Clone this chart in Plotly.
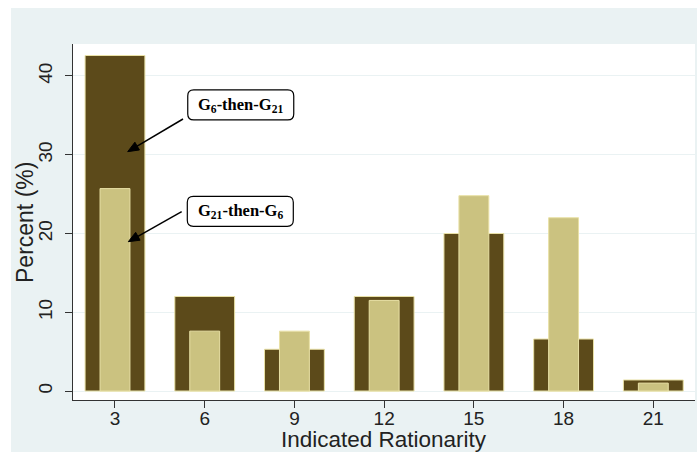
import math
import plotly.graph_objects as go

categories = [3, 6, 9, 12, 15, 18, 21]
g6_then_g21 = [42.6, 12.0, 5.3, 12.0, 20.0, 6.6, 1.4]
g21_then_g6 = [25.7, 7.6, 7.6, 11.5, 24.8, 22.0, 1.0]
y_ticks = [0, 10, 20, 30, 40]

DARK = "#5C4A1A"
LIGHT = "#CBC280"
EDGE = "#E9E1A6"
BG = "#EAF2F3"

X_RANGE = [1.596, 22.394]
Y_RANGE = [-1.143, 44.06]
ML, MR, MT, MB = 73, 5, 44, 52
W, H = 700, 452
PW, PH = W - ML - MR, H - MT - MB
XPU = PW / (X_RANGE[1] - X_RANGE[0])
YPU = PH / (Y_RANGE[1] - Y_RANGE[0])

fig = go.Figure()
fig.add_trace(go.Bar(x=categories, y=g6_then_g21, width=2, name="G6-then-G21",
                     marker=dict(color=DARK, line=dict(color=EDGE, width=1))))
fig.add_trace(go.Bar(x=categories, y=g21_then_g6, width=1, name="G21-then-G6",
                     marker=dict(color=LIGHT, line=dict(color=EDGE, width=1))))


def rounded_box(cx, cy, wpx, hpx, rpx=6):
    hw, hh = wpx / 2 / XPU, hpx / 2 / YPU
    rx, ry = rpx / XPU, rpx / YPU
    x0, x1, y0, y1 = cx - hw, cx + hw, cy - hh, cy + hh
    return (f"M {x0+rx} {y0} L {x1-rx} {y0} Q {x1} {y0} {x1} {y0+ry} "
            f"L {x1} {y1-ry} Q {x1} {y1} {x1-rx} {y1} L {x0+rx} {y1} "
            f"Q {x0} {y1} {x0} {y1-ry} L {x0} {y0+ry} Q {x0} {y0} {x0+rx} {y0} Z")


def arrow_head(tail, tip, length=11, half_w=4.5):
    dx = (tip[0] - tail[0]) * XPU
    dy = (tip[1] - tail[1]) * YPU
    n = math.hypot(dx, dy)
    ux, uy = dx / n, dy / n
    bx, by = -ux * length, -uy * length
    px, py = -uy * half_w, ux * half_w
    p1 = (tip[0] + (bx + px) / XPU, tip[1] + (by + py) / YPU)
    p2 = (tip[0] + (bx - px) / XPU, tip[1] + (by - py) / YPU)
    base = (tip[0] + bx / XPU, tip[1] + by / YPU)
    path = f"M {tip[0]} {tip[1]} L {p1[0]} {p1[1]} L {p2[0]} {p2[1]} Z"
    return path, base


boxes = [
    dict(text="<b>G<sub>6</sub>-then-G<sub>21</sub></b>", cx=7.205, cy=36.32,
         tail=(5.274, 34.54), tip=(3.425, 30.39)),
    dict(text="<b>G<sub>21</sub>-then-G<sub>6</sub></b>", cx=7.19, cy=22.82,
         tail=(5.23, 22.77), tip=(3.445, 18.96)),
]

shapes = [
    dict(type="rect", xref="paper", yref="paper", x0=(11 - ML) / PW, x1=(697 - ML) / PW,
         y0=-0.3, y1=(H - MB - 8) / PH, fillcolor=BG, line=dict(width=0), layer="below"),
    dict(type="rect", xref="paper", yref="paper", x0=0, x1=1, y0=0, y1=1,
         fillcolor="white", line=dict(width=0), layer="below"),
]
annotations = [
    dict(text="Indicated Rationarity", xref="paper", yref="paper", x=0.5, y=(H - MB - 439) / PH,
         xanchor="center", yanchor="middle", showarrow=False, font=dict(size=22.5, color="#222")),
    dict(text="Percent (%)", xref="paper", yref="paper", x=(25 - ML) / PW, y=0.5, textangle=-90,
         xanchor="center", yanchor="middle", showarrow=False, font=dict(size=23, color="#222")),
]
for b in boxes:
    shapes.append(dict(type="path", xref="x", yref="y", path=rounded_box(b["cx"], b["cy"], 106, 30),
                       fillcolor="white", line=dict(color="black", width=1.2), layer="above"))
    annotations.append(dict(x=b["cx"], y=b["cy"], xref="x", yref="y", text=b["text"], showarrow=False,
                            font=dict(family="Liberation Serif", size=16.5, color="black")))
    head, base = arrow_head(b["tail"], b["tip"])
    shapes.append(dict(type="line", xref="x", yref="y", x0=b["tail"][0], y0=b["tail"][1],
                       x1=base[0], y1=base[1], line=dict(color="black", width=1.5), layer="above"))
    shapes.append(dict(type="path", xref="x", yref="y", path=head, fillcolor="black",
                       line=dict(color="black", width=1), layer="above"))

fig.update_layout(
    width=W, height=H, margin=dict(l=ML, r=MR, t=MT, b=MB, autoexpand=False),
    paper_bgcolor="white", plot_bgcolor="white",
    barmode="overlay", showlegend=False,
    font=dict(family="Liberation Sans", color="#222"),
    shapes=shapes, annotations=annotations,
    xaxis=dict(range=X_RANGE, tickvals=categories, ticktext=[str(c) for c in categories],
               automargin=False, ticklabelstandoff=-6,
               showgrid=False, zeroline=False, showline=True, linecolor="#333", linewidth=1.2,
               ticks="outside", ticklen=7, tickcolor="#333", tickfont=dict(size=19)),
    yaxis=dict(range=Y_RANGE, tickvals=y_ticks, showgrid=True, gridcolor=BG, gridwidth=1.2,
               automargin=False, ticklabelstandoff=5,
               zeroline=False, showline=True, linecolor="#333", linewidth=1.2,
               ticks="outside", ticklen=7, tickcolor="#333", tickangle=-90, tickfont=dict(size=19)),
)

fig.write_html("out.html")
